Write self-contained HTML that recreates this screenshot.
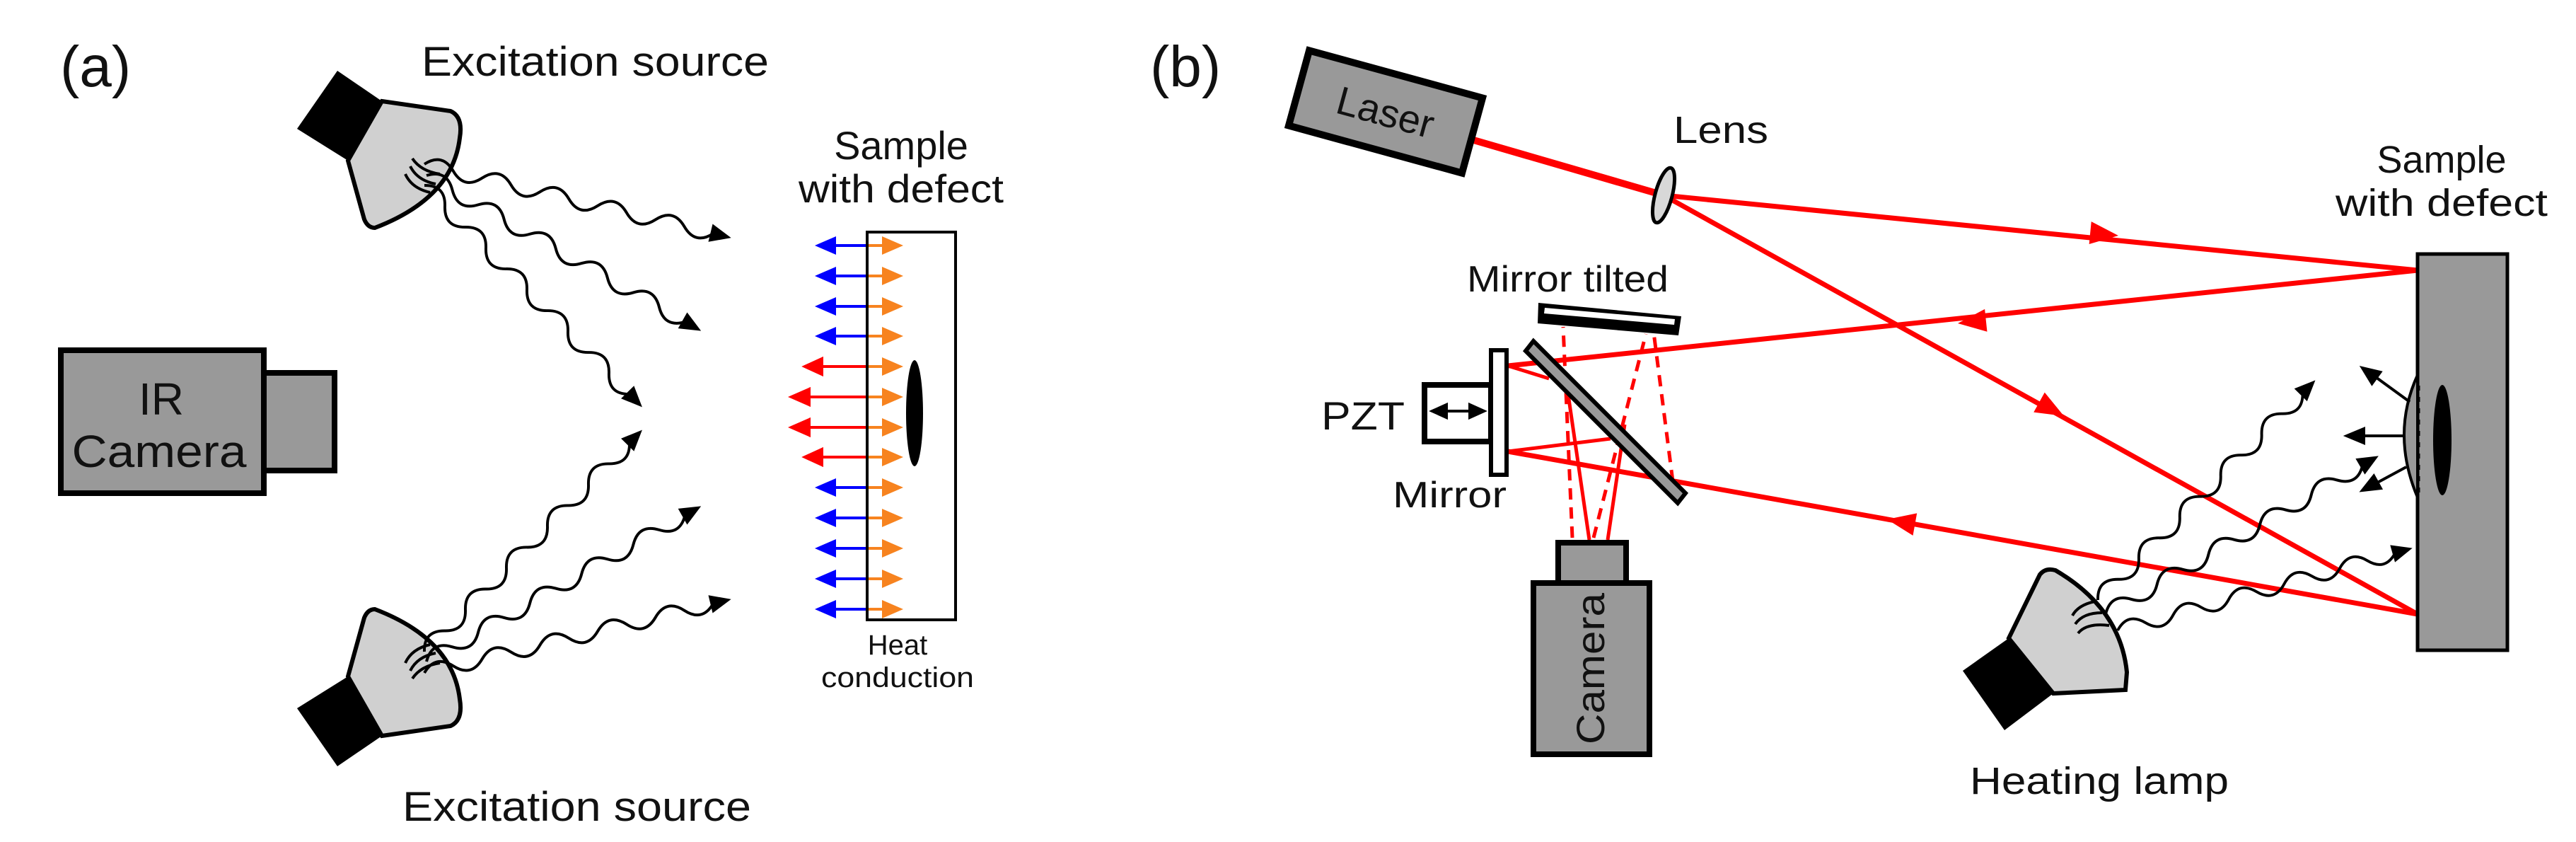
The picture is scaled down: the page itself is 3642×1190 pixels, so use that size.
<!DOCTYPE html>
<html><head><meta charset="utf-8"><style>
html,body{margin:0;padding:0;background:#fff;}
svg{display:block;}
text{font-family:"Liberation Sans",Arial,sans-serif;fill:#111;}
</style></head><body>
<svg width="3642" height="1190" viewBox="0 0 3642 1190" xmlns="http://www.w3.org/2000/svg">
<defs>
<g id="wave">
<path d="M0 0 q21 -22 42 0 t42 0 t42 0 t42 0 t42 0 t42 0 t42 0 t42 0 t42 0 t42 0 L422 0" fill="none" stroke="#000" stroke-width="4"/>
<polygon points="446,0 416,-13 416,13" fill="#000"/>
</g>
</defs>

<!-- ============ (a) ============ -->
<text x="85" y="122" font-size="82">(a)</text>
<text x="596" y="107" font-size="58" textLength="491" lengthAdjust="spacingAndGlyphs">Excitation source</text>
<text x="569" y="1160" font-size="58" textLength="493" lengthAdjust="spacingAndGlyphs">Excitation source</text>

<!-- top lamp -->
<polygon points="420,182 477,100 540,143 492,227" fill="#000"/>
<path d="M540,143 L637,157 Q655,165 650,195 Q640,280 530,322 Q520,322 515,310 L492,227 Z" fill="#d0d0d0" stroke="#000" stroke-width="6"/>
<path d="M583,224 Q595,242 622,246 M580,235 Q590,255 616,260 M573,246 Q582,266 608,272" fill="none" stroke="#000" stroke-width="4"/>
<!-- bottom lamp (mirror) -->
<g transform="translate(0,1183) scale(1,-1)">
<polygon points="420,182 477,100 540,143 492,227" fill="#000"/>
<path d="M540,143 L637,157 Q655,165 650,195 Q640,280 530,322 Q520,322 515,310 L492,227 Z" fill="#d0d0d0" stroke="#000" stroke-width="6"/>
<path d="M583,224 Q595,242 622,246 M580,235 Q590,255 616,260 M573,246 Q582,266 608,272" fill="none" stroke="#000" stroke-width="4"/>
</g>
<!-- waves (a) -->
<use href="#wave" transform="translate(600,232) rotate(13.5)"/>
<use href="#wave" transform="translate(603,248) rotate(29.5)"/>
<use href="#wave" transform="translate(600,262) rotate(45.5) scale(0.985)"/>
<use href="#wave" transform="translate(600,951) rotate(-13.5)"/>
<use href="#wave" transform="translate(603,935) rotate(-29.5)"/>
<use href="#wave" transform="translate(600,921) rotate(-45.5) scale(0.985)"/>

<!-- IR camera -->
<rect x="86" y="495" width="287" height="202" fill="#999" stroke="#000" stroke-width="8"/>
<rect x="373" y="527" width="100" height="138" fill="#999" stroke="#000" stroke-width="8"/>
<text x="228" y="586" font-size="64" text-anchor="middle">IR</text>
<text x="225" y="660" font-size="64" text-anchor="middle" textLength="247" lengthAdjust="spacingAndGlyphs">Camera</text>

<!-- sample (a) -->
<text x="1274" y="225" font-size="56" text-anchor="middle">Sample</text>
<text x="1274" y="286" font-size="56" text-anchor="middle" textLength="290" lengthAdjust="spacingAndGlyphs">with defect</text>
<rect x="1226" y="328" width="125" height="548" fill="#fff" stroke="#000" stroke-width="4"/>
<ellipse cx="1293" cy="584" rx="12" ry="75" fill="#000"/>
<g stroke-width="4">
<g stroke="#0000ff" fill="#0000ff">
<line x1="1226" y1="347" x2="1175" y2="347"/><polygon points="1157,347 1180,337 1180,357"/>
<line x1="1226" y1="390" x2="1175" y2="390"/><polygon points="1157,390 1180,380 1180,400"/>
<line x1="1226" y1="433" x2="1175" y2="433"/><polygon points="1157,433 1180,423 1180,443"/>
<line x1="1226" y1="475" x2="1175" y2="475"/><polygon points="1157,475 1180,465 1180,485"/>
<line x1="1226" y1="689" x2="1175" y2="689"/><polygon points="1157,689 1180,679 1180,699"/>
<line x1="1226" y1="732" x2="1175" y2="732"/><polygon points="1157,732 1180,722 1180,742"/>
<line x1="1226" y1="775" x2="1175" y2="775"/><polygon points="1157,775 1180,765 1180,785"/>
<line x1="1226" y1="818" x2="1175" y2="818"/><polygon points="1157,818 1180,808 1180,828"/>
<line x1="1226" y1="861" x2="1175" y2="861"/><polygon points="1157,861 1180,851 1180,871"/>
</g>
<g stroke="#ff0000" fill="#ff0000">
<line x1="1226" y1="518" x2="1158" y2="518"/><polygon points="1138,518 1162,507 1162,529"/>
<line x1="1226" y1="561" x2="1140" y2="561"/><polygon points="1119,561 1144,550 1144,572"/>
<line x1="1226" y1="604" x2="1140" y2="604"/><polygon points="1119,604 1144,593 1144,615"/>
<line x1="1226" y1="646" x2="1158" y2="646"/><polygon points="1138,646 1162,635 1162,657"/>
</g>
<g stroke="#f7831f" fill="#f7831f">
<line x1="1226" y1="347" x2="1252" y2="347"/><polygon points="1272,347 1249,337 1249,357"/>
<line x1="1226" y1="390" x2="1252" y2="390"/><polygon points="1272,390 1249,380 1249,400"/>
<line x1="1226" y1="433" x2="1252" y2="433"/><polygon points="1272,433 1249,423 1249,443"/>
<line x1="1226" y1="475" x2="1252" y2="475"/><polygon points="1272,475 1249,465 1249,485"/>
<line x1="1226" y1="518" x2="1252" y2="518"/><polygon points="1272,518 1249,508 1249,528"/>
<line x1="1226" y1="561" x2="1252" y2="561"/><polygon points="1272,561 1249,551 1249,571"/>
<line x1="1226" y1="604" x2="1252" y2="604"/><polygon points="1272,604 1249,594 1249,614"/>
<line x1="1226" y1="646" x2="1252" y2="646"/><polygon points="1272,646 1249,636 1249,656"/>
<line x1="1226" y1="689" x2="1252" y2="689"/><polygon points="1272,689 1249,679 1249,699"/>
<line x1="1226" y1="732" x2="1252" y2="732"/><polygon points="1272,732 1249,722 1249,742"/>
<line x1="1226" y1="775" x2="1252" y2="775"/><polygon points="1272,775 1249,765 1249,785"/>
<line x1="1226" y1="818" x2="1252" y2="818"/><polygon points="1272,818 1249,808 1249,828"/>
<line x1="1226" y1="861" x2="1252" y2="861"/><polygon points="1272,861 1249,851 1249,871"/>
</g>
</g>
<line x1="1226" y1="330" x2="1226" y2="876" stroke="#000" stroke-width="4"/>
<text x="1269" y="925" font-size="40" text-anchor="middle">Heat</text>
<text x="1269" y="971" font-size="40" text-anchor="middle" textLength="216" lengthAdjust="spacingAndGlyphs">conduction</text>

<!-- ============ (b) ============ -->
<text x="1626" y="122" font-size="82">(b)</text>

<g stroke="#ff0000" fill="none">
<line x1="2080" y1="197" x2="2352" y2="276" stroke-width="10"/>
<line x1="2352" y1="276" x2="3418" y2="382" stroke-width="7"/>
<line x1="2352" y1="276" x2="3418" y2="868" stroke-width="7"/>
<line x1="3418" y1="382" x2="2132" y2="517" stroke-width="7"/>
<line x1="2132" y1="517" x2="2190" y2="535" stroke-width="5"/>
<line x1="3418" y1="868" x2="2132" y2="638" stroke-width="7"/>
<line x1="2132" y1="638" x2="2277" y2="620" stroke-width="5"/>
<line x1="2247" y1="763" x2="2217" y2="557" stroke-width="5"/>
<line x1="2273" y1="763" x2="2297" y2="600" stroke-width="5"/>
<g stroke-width="5" stroke-dasharray="16,11">
<line x1="2223" y1="760" x2="2210" y2="462"/>
<line x1="2253" y1="760" x2="2327" y2="472"/>
<line x1="2365" y1="680" x2="2338" y2="470"/>
</g>
</g>
<g fill="#ff0000">
<polygon points="0,0 -40,-16 -40,16" transform="translate(2995,333) rotate(5.6)"/>
<polygon points="0,0 -40,-16 -40,16" transform="translate(2918,588) rotate(29)"/>
<polygon points="0,0 -40,-16 -40,16" transform="translate(2768,457) rotate(174)"/>
<polygon points="0,0 -40,-16 -40,16" transform="translate(2668,734) rotate(190.2)"/>
</g>

<!-- laser -->
<g transform="translate(1959,158) rotate(15.3)">
<rect x="-127" y="-55" width="254" height="110" fill="#999" stroke="#000" stroke-width="10"/>
<text x="0" y="20" font-size="56" text-anchor="middle">Laser</text>
</g>
<ellipse cx="2352" cy="276" rx="12" ry="40" transform="rotate(15 2352 276)" fill="#d8d8d8" stroke="#000" stroke-width="5"/>
<text x="2366" y="202" font-size="54" textLength="134" lengthAdjust="spacingAndGlyphs">Lens</text>

<!-- mirror tilted -->
<polygon points="2175,428 2377,447 2373,474 2174,457" fill="#000"/>
<polygon points="2184,435 2368,451 2367,459 2183,443" fill="#fff"/>
<text x="2074" y="412" font-size="52" textLength="285" lengthAdjust="spacingAndGlyphs">Mirror tilted</text>
<!-- beamsplitter -->
<polygon points="2157,496 2168,482 2383,697 2372,711" fill="#999" stroke="#000" stroke-width="6"/>
<!-- mirror + PZT -->
<rect x="2014" y="544" width="94" height="80" fill="#fff" stroke="#000" stroke-width="8"/>
<rect x="2108" y="495" width="22" height="176" fill="#fff" stroke="#000" stroke-width="6"/>
<g stroke="#000" stroke-width="4" fill="#000">
<line x1="2035" y1="581" x2="2090" y2="581"/>
<polygon points="2025,581 2045,572 2045,590"/><polygon points="2098,581 2078,572 2078,590"/>
</g>
<text x="1868" y="607" font-size="56" textLength="118" lengthAdjust="spacingAndGlyphs">PZT</text>
<text x="1969" y="717" font-size="52" textLength="161" lengthAdjust="spacingAndGlyphs">Mirror</text>

<!-- camera (b) -->
<rect x="2203" y="767" width="96" height="57" fill="#999" stroke="#000" stroke-width="8"/>
<rect x="2168" y="824" width="164" height="242" fill="#999" stroke="#000" stroke-width="8"/>
<text transform="translate(2268,945) rotate(-90)" font-size="56" text-anchor="middle" textLength="214" lengthAdjust="spacingAndGlyphs">Camera</text>

<!-- sample (b) -->
<text x="3452" y="244" font-size="54" text-anchor="middle">Sample</text>
<text x="3452" y="305" font-size="54" text-anchor="middle" textLength="300" lengthAdjust="spacingAndGlyphs">with defect</text>
<rect x="3418" y="359" width="127" height="560" fill="#999" stroke="#000" stroke-width="5"/>
<path d="M3418,530 Q3380,613 3418,703 Z" fill="#999" stroke="#000" stroke-width="4"/>
<line x1="3419" y1="545" x2="3419" y2="700" stroke="#000" stroke-width="5" stroke-dasharray="7,9"/>
<ellipse cx="3453" cy="622" rx="13" ry="78" fill="#000"/>
<g stroke="#000" stroke-width="4" fill="#000">
<line x1="3407" y1="568" x2="3352" y2="528"/><polygon points="0,0 -24,-10 -24,10" transform="translate(3340,520) rotate(216)"/>
<line x1="3400" y1="616" x2="3335" y2="616"/><polygon points="3318,616 3342,606 3342,626"/>
<line x1="3402" y1="660" x2="3352" y2="687"/><polygon points="0,0 -24,-10 -24,10" transform="translate(3340,693) rotate(151)"/>
</g>

<!-- heating lamp -->
<polygon points="2775,948 2840,902 2903,980 2834,1032" fill="#000"/>
<path d="M2840,902 L2884,812 Q2892,802 2906,806 Q2998,860 3007,950 L3005,975 L2903,980 Z" fill="#d0d0d0" stroke="#000" stroke-width="6"/>
<path d="M2930,870 Q2938,855 2962,850 M2934,882 Q2945,866 2972,866 M2938,895 Q2950,880 2982,884" fill="none" stroke="#000" stroke-width="4"/>
<use href="#wave" transform="translate(2966,848) rotate(-45.3) scale(0.98)"/>
<use href="#wave" transform="translate(2977,868) rotate(-30.1)"/>
<use href="#wave" transform="translate(2994,891) rotate(-15.6) scale(0.97)"/>
<text x="2785" y="1122" font-size="54" textLength="366" lengthAdjust="spacingAndGlyphs">Heating lamp</text>
</svg>
</body></html>
